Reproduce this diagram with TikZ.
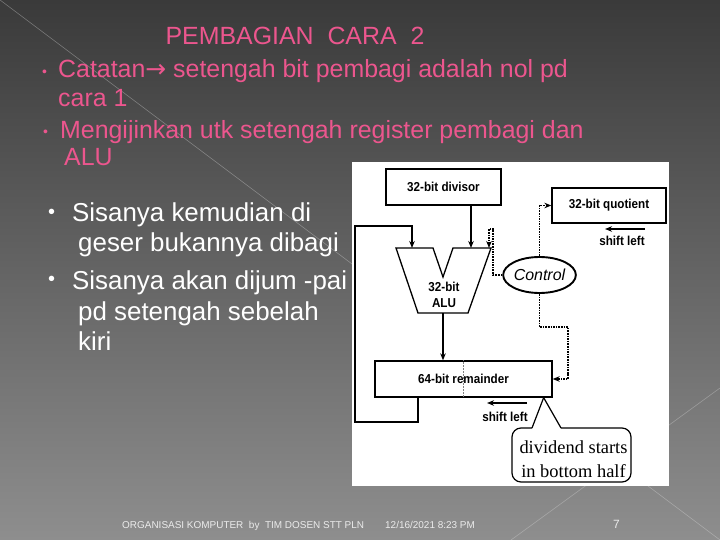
\documentclass[tikz,border=0pt]{standalone}
\usepackage{fontspec}
\setmainfont{Liberation Sans}
\newfontfamily\notefont{Liberation Serif}
\newfontfamily\arrowfont{DejaVu Sans}
\newfontfamily\diagfont[FakeStretch=0.9]{Liberation Sans}
\usepackage{tikz}
\usetikzlibrary{positioning, arrows.meta, shapes.geometric}
\definecolor{slidepink}{RGB}{236,86,142}
\definecolor{bgtop}{RGB}{58,58,58}
\definecolor{bgbottom}{RGB}{142,142,142}
\tikzset{>={Stealth[length=7bp, width=5.5bp]},
         reg/.style={draw, line width=1.3bp, minimum height=36bp, inner sep=0pt,
                     font=\diagfont\fontsize{13}{15}\selectfont\bfseries},
         lbl/.style={inner sep=0pt, font=\diagfont\fontsize{13}{16}\selectfont\bfseries},
         wire/.style={line width=1.3bp},
         ctl/.style={densely dotted, line width=1.6bp},
         pinkline/.style={text=slidepink, anchor=base west, inner sep=0pt,
                          font=\fontsize{25}{29}\selectfont},
         whiteline/.style={text=white, anchor=base west, inner sep=0pt,
                           font=\fontsize{26}{31}\selectfont},
         foot/.style={text=white!92!black, anchor=base west, inner sep=0pt,
                      font=\fontsize{10}{12}\selectfont},
         }

\begin{document}
\begin{tikzpicture}[x=1bp, y=-1bp]
    \useasboundingbox (0,0) rectangle (720,540);
    \shade[top color=bgtop, bottom color=bgbottom] (0,0) rectangle (720,540);
    \draw[white!75!gray, line width=0.6bp, opacity=0.35] (0,0) -- (720,540);
    \draw[white!75!gray, line width=0.6bp, opacity=0.35] (511,540) -- (720,388);
    \fill[white] (352,162) rectangle (669,486);

    \node[pinkline, anchor=base] (title) at (295,45) {PEMBAGIAN\ \ CARA\ \ 2};
    \node[pinkline, font=\fontsize{14}{14}\selectfont] (b1) at (42,77) {•};
    \node[pinkline] (p1) at (58,78) {Catatan{\arrowfont →} setengah bit pembagi adalah nol pd};
    \node[pinkline] (p2) at (58,107) {cara 1};
    \node[pinkline, font=\fontsize{14}{14}\selectfont] (b2) at (43,137) {•};
    \node[pinkline] (p3) at (60,139) {Mengijinkan utk setengah register pembagi dan};
    \node[pinkline] (p4) at (64,166) {ALU};

    \node[whiteline, font=\fontsize{20}{20}\selectfont] (w0) at (48,219) {•};
    \node[whiteline] (w1) at (72,222) {Sisanya kemudian di};
    \node[whiteline] (w2) at (78,252) {geser bukannya dibagi};
    \node[whiteline, font=\fontsize{20}{20}\selectfont] (w00) at (48,286) {•};
    \node[whiteline] (w3) at (72,289) {Sisanya akan dijum -pai};
    \node[whiteline] (w4) at (78,320) {pd setengah sebelah};
    \node[whiteline] (w5) at (78,350) {kiri};

    \node[foot] (f1) at (122,528) {ORGANISASI KOMPUTER\ \ by\ \ TIM DOSEN STT PLN};
    \node[foot] (f2) at (385,528) {12/16/2021 8:23 PM};
    \node[foot, font=\fontsize{12}{12}\selectfont] (f3) at (613,528) {7};

    \node[reg, minimum width=115bp] (divisor) at (443.5,187) {32-bit divisor};
    \node[reg, minimum width=114bp, minimum height=35bp] (quotient) at (609,205.5) {32-bit quotient};
    \node[reg, minimum width=177bp] (remainder) at (463.5,379) {64-bit remainder};
    \draw[densely dotted, line width=0.5bp, gray] (remainder.north) -- (remainder.south);

    \draw[wire] (396,248) -- (433,248) -- (443,277) -- (453,248) -- (491,248)
                -- (468,313) -- (418,313) -- cycle;
    \node[lbl, align=center] (alu) at (444,295) {32-bit\\ALU};
    \coordinate (aluA) at (412,248);
    \coordinate (aluB) at (471,248);
    \coordinate (aluC) at (489,248);
    \coordinate (aluOut) at (443,313);

    \node[ellipse, draw, line width=1.9bp, minimum width=65bp, minimum height=36bp, inner sep=0pt,
          font=\fontsize{16}{16}\selectfont\itshape] (control) at (539.5,275) {Control};

    \draw[wire, ->] (divisor.south -| aluB) -- (aluB);
    \draw[wire, ->] (aluOut) -- (aluOut |- remainder.north);
    \draw[wire, ->] ([xshift=-45.5bp]remainder.south) |- (355,422) |- (412,226) -- (aluA);
    \draw[ctl, ->] (control.west) -- ++(-9,0) |- (489,229) -- (aluC);
    \draw[ctl, ->] (control.north) |- (quotient.west);
    \draw[ctl, ->] (control.south) |- (568,327) |- (remainder.east);

    \node[lbl] (qshift) at (622,241) {shift left};
    \coordinate (qs) at (645,229);
    \draw[wire, ->] (qs) -- ++(-40,0);
    \node[lbl] (rshift) at (505,417) {shift left};
    \coordinate (rs) at (527,403);
    \draw[wire, ->] (rs) -- ++(-40,0);

    \coordinate (tip) at ([xshift=-9bp]remainder.south east);
    \draw[line width=1.2bp, rounded corners=9bp] (532,428) -- (512,428) -- (512,482)
                -- (631,482) -- (631,428) -- (561,428);
    \draw[line width=1.2bp] (532,428) -- (tip) -- (561,428);
    \node[font=\notefont\fontsize{18.5}{24}\selectfont, align=center, inner sep=0pt] (note)
          at (573.5,459) {dividend starts\\in bottom half};
\end{tikzpicture}
\end{document}
